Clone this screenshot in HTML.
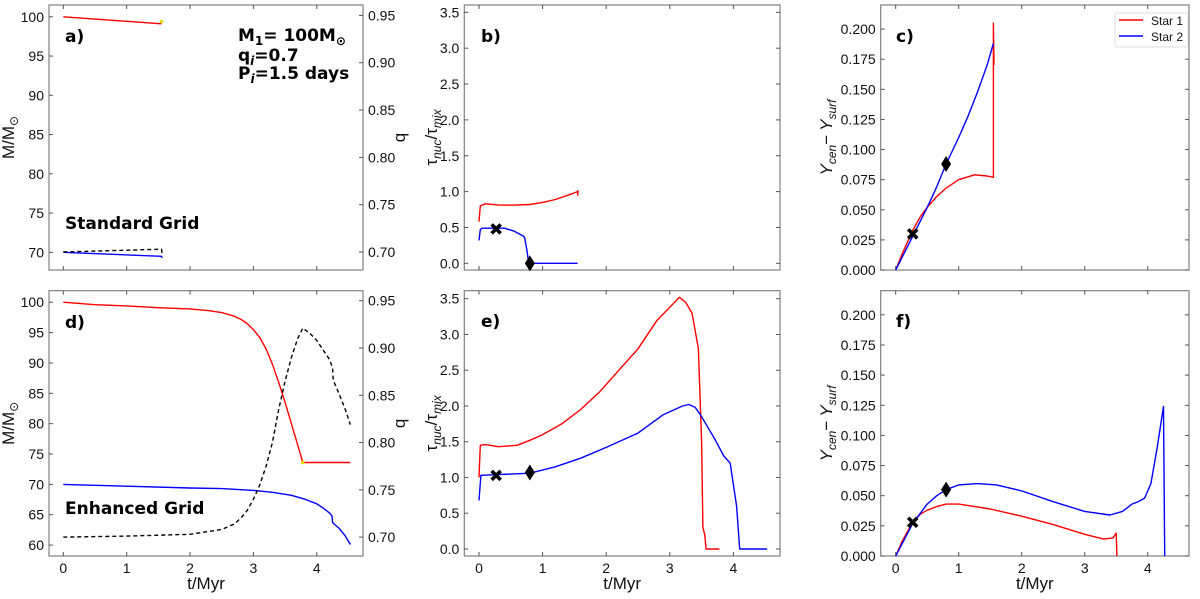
<!DOCTYPE html>
<html><head><meta charset="utf-8"><style>
body{margin:0;background:#fff;width:1200px;height:594px;overflow:hidden}
svg{font-family:"Liberation Sans","DejaVu Sans",sans-serif}
</style></head><body>
<svg id="fig" width="1200" height="594" xmlns="http://www.w3.org/2000/svg"></svg>
<script>
// ---- data ----
const aT1=[0,1.55], aM1=[100,99.1];
const aT2=[0,1.55,1.56], aM2=[70,69.5,69.3];
const aTq=[0,1.55,1.56], aQ=[0.700,0.703,0.697];
const dT1=[0,0.5,1,1.5,2,2.3,2.5,2.7,2.8,2.9,3.0,3.1,3.2,3.3,3.4,3.5,3.6,3.7,3.78,4.53];
const dM1=[100,99.6,99.4,99.1,98.9,98.6,98.3,97.7,97.2,96.5,95.5,94.2,92.3,89.8,86.8,83.5,80,76.5,73.6,73.6];
const dT2=[0,1,2,2.5,3,3.3,3.6,3.8,4.0,4.1,4.2,4.24,4.25,4.35,4.45,4.53];
const dM2=[70,69.7,69.4,69.3,69.0,68.7,68.2,67.6,66.8,66.1,65.3,64.8,63.7,62.8,61.5,60.1];
const dTq=[0,1,2,2.5,2.7,2.8,2.9,3.0,3.1,3.2,3.3,3.4,3.5,3.6,3.7,3.78,3.9,4.0,4.1,4.2,4.25,4.26,4.35,4.45,4.53];
const dQ=[0.700,0.701,0.703,0.708,0.714,0.72,0.728,0.74,0.755,0.775,0.80,0.835,0.865,0.89,0.91,0.921,0.915,0.908,0.898,0.888,0.879,0.866,0.852,0.835,0.819];
const bT1=[0,0.02,0.1,0.3,0.5,0.8,1,1.2,1.4,1.55,1.55,1.56], bR1=[0.58,0.8,0.83,0.815,0.81,0.82,0.85,0.89,0.95,1.0,0.95,1.02];
const bT2=[0,0.02,0.05,0.4,0.55,0.7,0.72,0.75,0.78,0.8,1.55], bR2=[0.32,0.47,0.49,0.49,0.45,0.38,0.35,0.2,0.02,0,0];
const eT1=[0,0.02,0.1,0.3,0.6,0.8,1,1.3,1.6,1.9,2.2,2.5,2.8,3.0,3.15,3.25,3.35,3.45,3.5,3.52,3.55,3.57,3.78];
const eR1=[1.0,1.45,1.46,1.43,1.45,1.52,1.6,1.75,1.95,2.2,2.5,2.8,3.2,3.38,3.52,3.45,3.3,2.8,1.5,0.3,0.2,0,0];
const eT2=[0,0.03,0.3,0.8,1.2,1.6,2.0,2.5,2.9,3.2,3.3,3.4,3.5,3.7,3.85,3.95,4.05,4.1,4.53];
const eR2=[0.68,1.03,1.04,1.06,1.15,1.27,1.42,1.62,1.88,2.0,2.02,1.98,1.85,1.55,1.3,1.2,0.6,0,0];
const cT1=[0,0.1,0.27,0.4,0.5,0.65,0.8,1.0,1.25,1.45,1.55,1.55,1.56], cY1=[0,0.013,0.033,0.045,0.052,0.061,0.068,0.075,0.079,0.078,0.077,0.205,0.17];
const cT2=[0,0.27,0.5,0.65,0.8,1.0,1.15,1.3,1.45,1.55], cY2=[0,0.028,0.052,0.069,0.088,0.11,0.128,0.148,0.17,0.188];
const fT1=[0,0.1,0.27,0.4,0.5,0.65,0.8,1.0,1.5,2,2.5,3,3.3,3.45,3.5,3.51], fY1=[0,0.012,0.028,0.035,0.038,0.041,0.043,0.043,0.039,0.033,0.026,0.018,0.014,0.015,0.019,0];
const fT2=[0,0.27,0.5,0.65,0.8,1.0,1.3,1.6,2,2.5,3,3.4,3.6,3.75,3.85,3.95,4.05,4.15,4.25,4.27];
const fY2=[0,0.027,0.043,0.05,0.055,0.059,0.060,0.059,0.054,0.045,0.037,0.034,0.037,0.043,0.045,0.048,0.06,0.09,0.124,0];
const xTicks=[0,1,2,3,4];
const mTicksA=[70,75,80,85,90,95,100], mTicksD=[60,65,70,75,80,85,90,95,100];
const qTicks=[0.70,0.75,0.80,0.85,0.90,0.95];
const tauTicks=[0,0.5,1,1.5,2,2.5,3,3.5];
const yTicks=[0,0.025,0.05,0.075,0.1,0.125,0.15,0.175,0.2];
const xMarks=[0.27], dMarks=[0.8];

const NS="http://www.w3.org/2000/svg", svg=document.getElementById('fig');
function el(t,a,p){const e=document.createElementNS(NS,t);for(const k in a)e.setAttribute(k,a[k]);(p||svg).appendChild(e);return e;}
function txt(s,a,p){const e=el('text',a,p);e.innerHTML=s;return e;}

function panel(name,box,xr,yr){
  const g=el('g',{});
  
  
  return {g,box,
    x:v=>box.l+(v-xr[0])/(xr[1]-xr[0])*(box.r-box.l),
    y:v=>box.b-(v-yr[0])/(yr[1]-yr[0])*(box.b-box.t)};
}
function frame(P){const b=P.box;const r=el('rect',{x:b.l,y:b.t,width:b.r-b.l,height:b.b-b.t,fill:'none',stroke:'#808080','stroke-width':1.2},P.g);
  }
function xaxis(P,ticks,labels){const b=P.box;
  ticks.forEach(t=>{const x=P.x(t);
    el('line',{x1:x,x2:x,y1:b.b,y2:b.b-4,stroke:'#555'},P.g);
    el('line',{x1:x,x2:x,y1:b.t,y2:b.t+4,stroke:'#555'},P.g);
    if(labels){const tl=txt(String(t),{x:x,y:b.b+17,'font-size':14,'text-anchor':'middle',fill:'#111'},P.g);
      }
  });
  if(labels){const l=txt('t/Myr',{x:(b.l+b.r)/2,y:b.b+33,'font-size':17,'text-anchor':'middle',fill:'#111'},P.g);
    }
}
function yaxis(P,ticks,fmt,side,alsoOther){const b=P.box;
  ticks.forEach(t=>{const y=P.y(t);
    if(side==='l'){el('line',{x1:b.l,x2:b.l+4,y1:y,y2:y,stroke:'#555'},P.g);
      if(alsoOther)el('line',{x1:b.r,x2:b.r-4,y1:y,y2:y,stroke:'#555'},P.g);
      const tl=txt(fmt(t),{x:b.l-5,y:y+5,'font-size':14,'text-anchor':'end',fill:'#111'},P.g);
      }
    else{el('line',{x1:b.r,x2:b.r-4,y1:y,y2:y,stroke:'#555'},P.g);
      const tl=txt(fmt(t),{x:b.r+5,y:y+5,'font-size':14,'text-anchor':'start',fill:'#111'},P.g);
      }
  });
}
function line(P,xs,ys,col,name,dash){
  const pts=xs.map((v,i)=>P.x(v).toFixed(1)+','+P.y(ys[i]).toFixed(1)).join(' ');
  const a={points:pts,fill:'none',stroke:col,'stroke-width':1.4,'stroke-linejoin':'round'};if(dash)a['stroke-dasharray']='4,3';
  const l=el('polyline',a,P.g);
  
}
function xmark(P,x,y){const cx=P.x(x),cy=P.y(y),s=4.5;
  const m=el('path',{d:`M${cx-s},${cy-s}L${cx+s},${cy+s}M${cx-s},${cy+s}L${cx+s},${cy-s}`,stroke:'#000','stroke-width':3.6},P.g);
  }
function dmark(P,x,y){const cx=P.x(x),cy=P.y(y);
  const m=el('path',{d:`M${cx},${cy-8}L${cx+5},${cy}L${cx},${cy+8}L${cx-5},${cy}Z`,fill:'#000'},P.g);
  }
function label(P,s,x,y,name,size){const t=txt(s,{x:x,y:y,'font-size':size||17,'font-weight':'bold',fill:'#000','font-family':'"DejaVu Sans",sans-serif'},P.g);
  }
// pieces: [text, isSub, italic]
function ytitle(P,pieces,x,name){const b=P.box,cy=(b.t+b.b)/2;
  const outer=el('g',{transform:`translate(${x} ${cy}) rotate(-90)`},P.g);
  
  const inner=el('g',{},outer);
  let cur=0;
  pieces.forEach(p=>{
    const a={x:cur,y:p[1]?4:0,'font-size':p[1]?12:17,fill:'#111'};
    if(p[2])a['font-style']='italic';
    const t=txt(p[0],a,inner);
    
    
    cur+=t.getComputedTextLength()+(p[0].endsWith(' ')?4:0);
  });
  inner.setAttribute('transform',`translate(${-cur/2} 0)`);
}

const f0=v=>String(v), f1=v=>v.toFixed(1), f2=v=>v.toFixed(2), f3=v=>v.toFixed(3);
const boxTop={t:5,b:270}, boxBot={t:290.7,b:556};
const MT=[['M/M',0,0],['⊙',1,0]];
const TAU=[['τ',0,0],['nuc',1,1],['/τ',0,0],['mix',1,1]];
const YT=[['Y',0,1],['cen',1,1],[' − ',0,0],['Y',0,1],['surf',1,1]];
const QT=[['q',0,0]];

// panel a
let A=panel('panel-a',{l:49,r:363,...boxTop},[-0.226,4.73],[67.75,101.5]);
let Aq=panel('panel-a-q',{l:49,r:363,...boxTop},[-0.226,4.73],[0.681,0.961]);
frame(A);xaxis(A,xTicks,false);yaxis(A,mTicksA,f0,'l');yaxis(Aq,qTicks,f2,'r');
line(A,aT1,aM1,'#f00','star1-mass-line');line(A,aT2,aM2,'#00f','star2-mass-line');line(Aq,aTq,aQ,'#000','mass-ratio-line',true);
el('circle',{cx:A.x(1.55),cy:A.y(99.4),r:1.8,fill:'#dd0'},A.g);
ytitle(A,MT,14,'y-axis-title');ytitle(A,QT,405,'right-y-axis-title');
label(A,'a)',65,42,'panel-label');
label(A,'M<tspan font-size="12" dy="4">1</tspan><tspan dy="-4">= 100M</tspan><tspan font-size="12" dy="4">⊙</tspan>',238,41,'annotation-mass');
label(A,'q<tspan font-size="12" dy="4" font-style="italic">i</tspan><tspan dy="-4">=0.7</tspan>',238,61,'annotation-q');
label(A,'P<tspan font-size="12" dy="4" font-style="italic">i</tspan><tspan dy="-4">=1.5 days</tspan>',238,79,'annotation-period');
label(A,'Standard Grid',65,229,'grid-label');

// panel d
let D=panel('panel-d',{l:49,r:363,...boxBot},[-0.226,4.73],[58.2,101.9]);
let Dq=panel('panel-d-q',{l:49,r:363,...boxBot},[-0.226,4.73],[0.680,0.9606]);
frame(D);xaxis(D,xTicks,true);yaxis(D,mTicksD,f0,'l');yaxis(Dq,qTicks,f2,'r');
line(D,dT1,dM1,'#f00','star1-mass-line');line(D,dT2,dM2,'#00f','star2-mass-line');line(Dq,dTq,dQ,'#000','mass-ratio-line',true);
el('circle',{cx:D.x(3.78),cy:D.y(73.6),r:1.8,fill:'#dd0'},D.g);
ytitle(D,MT,14,'y-axis-title');ytitle(D,QT,405,'right-y-axis-title');
label(D,'d)',65,328,'panel-label');label(D,'Enhanced Grid',65,514,'grid-label');

// panel b
let B=panel('panel-b',{l:464.3,r:780,...boxTop},[-0.231,4.733],[-0.093,3.602]);
frame(B);xaxis(B,xTicks,false);yaxis(B,tauTicks,f1,'l',true);
line(B,bT1,bR1,'#f00','star1-tau-line');line(B,bT2,bR2,'#00f','star2-tau-line');
xMarks.forEach(t=>xmark(B,t,0.48));dMarks.forEach(t=>dmark(B,t,0));
ytitle(B,TAU,437,'y-axis-title');label(B,'b)',481,42,'panel-label');

// panel e
let E=panel('panel-e',{l:464.3,r:780,...boxBot},[-0.231,4.733],[-0.098,3.612]);
frame(E);xaxis(E,xTicks,true);yaxis(E,tauTicks,f1,'l',true);
line(E,eT1,eR1,'#f00','star1-tau-line');line(E,eT2,eR2,'#00f','star2-tau-line');
xMarks.forEach(t=>xmark(E,t,1.03));dMarks.forEach(t=>dmark(E,t,1.07));
ytitle(E,TAU,437,'y-axis-title');label(E,'e)',481,327,'panel-label');

// panel c
let C=panel('panel-c',{l:880.7,r:1189,...boxTop},[-0.238,4.655],[0,0.22]);
frame(C);xaxis(C,xTicks,false);yaxis(C,yTicks,f3,'l',true);
line(C,cT1,cY1,'#f00','star1-helium-line');line(C,cT2,cY2,'#00f','star2-helium-line');
xMarks.forEach(t=>xmark(C,t,0.03));dMarks.forEach(t=>dmark(C,t,0.088));
ytitle(C,YT,832,'y-axis-title');label(C,'c)',896,42,'panel-label');
const lg=el('g',{});
el('rect',{x:1115,y:13,width:73,height:34,fill:'#fff',stroke:'#ddd',rx:2},lg);
el('line',{x1:1119,x2:1143,y1:20,y2:20,stroke:'#f00','stroke-width':1.4},lg);
el('line',{x1:1119,x2:1143,y1:36,y2:36,stroke:'#00f','stroke-width':1.4},lg);
let l1=txt('Star 1',{x:1151,y:25,'font-size':12,fill:'#111'},lg);
let l2=txt('Star 2',{x:1151,y:41,'font-size':12,fill:'#111'},lg);

// panel f
let F=panel('panel-f',{l:880.7,r:1189,...boxBot},[-0.238,4.655],[0,0.22]);
frame(F);xaxis(F,xTicks,true);yaxis(F,yTicks,f3,'l',true);
line(F,fT1,fY1,'#f00','star1-helium-line');line(F,fT2,fY2,'#00f','star2-helium-line');
xMarks.forEach(t=>xmark(F,t,0.028));dMarks.forEach(t=>dmark(F,t,0.055));
ytitle(F,YT,832,'y-axis-title');label(F,'f)',896,327,'panel-label');
</script>
</body></html>
